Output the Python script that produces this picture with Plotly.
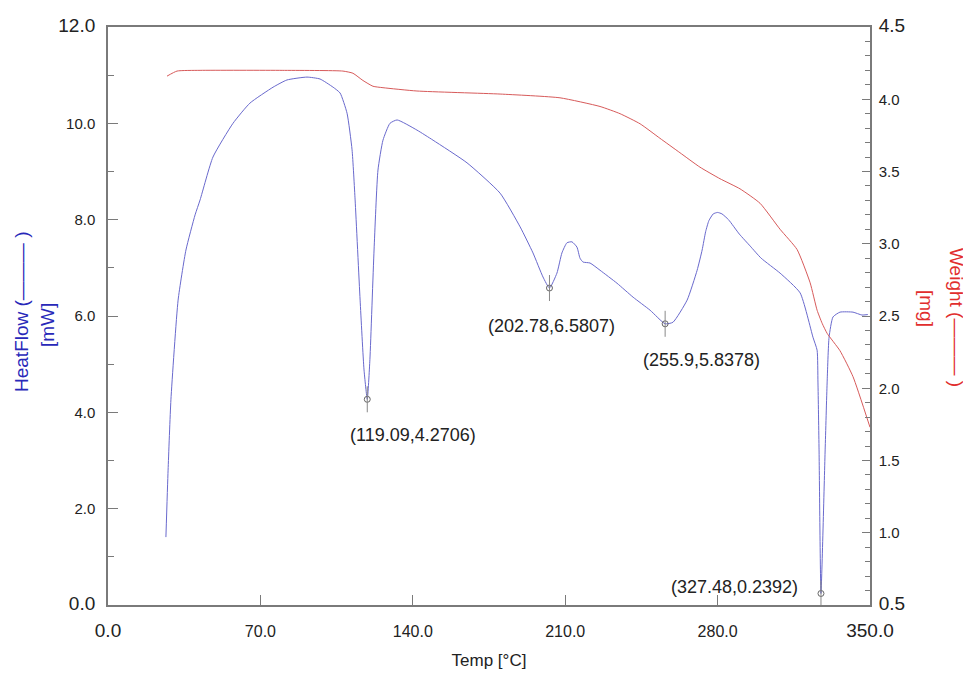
import plotly.graph_objects as go

# ---------------- data ----------------
temp_hf = [26.6, 27.6, 28.9, 32.2, 35.8, 40.0, 42.3, 48.2, 57.4, 65.2, 75.8, 82.2, 91.4, 97.4,
           103.4, 106.6, 109.8, 112.1, 113.5, 115.8, 117.6, 119.09, 120.3, 122.2, 124.0, 126.3,
           129.5, 132.8, 141.9, 149.3, 164.9, 180.1, 189.3, 195.2, 199.8, 202.78, 206.2, 208.5,
           210.8, 213.1, 215.4, 216.8, 218.2, 221.4, 226.0, 233.8, 241.2, 249.0, 255.9, 259.5,
           266.0, 270.6, 272.9, 274.5, 276.0, 278.0, 280.0, 282.0, 285.0, 290.0, 295.0, 300.0,
           308.7, 317.9, 323.8, 325.7, 326.1, 326.6, 327.48, 329.4, 330.3, 331.2, 333.0, 336.2,
           342.2, 346.3, 349.0]
heatflow = [1.41, 2.8, 4.26, 6.33, 7.37, 8.10, 8.41, 9.30, 10.0, 10.42, 10.75, 10.9, 10.96, 10.92,
            10.75, 10.63, 10.21, 9.45, 8.41, 6.33, 4.88, 4.2706, 5.1, 7.37, 9.03, 9.65,
            10.0, 10.07, 9.86, 9.65, 9.18, 8.55, 7.85, 7.31, 6.81, 6.5807, 6.89, 7.31,
            7.52, 7.54, 7.43, 7.20, 7.12, 7.10, 6.95, 6.68, 6.39, 6.12, 5.8378, 5.87,
            6.33, 6.95, 7.37, 7.75, 7.98, 8.12, 8.15, 8.12, 8.0, 7.7, 7.45, 7.2,
            6.89, 6.48, 5.56, 5.29, 4.61, 3.22, 0.2392, 3.22, 4.61, 5.56, 5.98, 6.08,
            6.08, 6.02, 6.03]

temp_w = [27.1, 31.7, 42.3, 80.0, 107.9, 112.5, 117.1, 121.7, 126.3, 141.9, 180.1, 207.6, 226.0,
          235.2, 244.4, 253.5, 262.7, 271.9, 281.1, 290.3, 299.5, 308.7, 316.5, 322.5, 325.7,
          328.0, 330.3, 336.2, 342.2, 350.0]
weight = [4.16, 4.195, 4.20, 4.20, 4.195, 4.18, 4.13, 4.09, 4.08, 4.057, 4.036, 4.01, 3.95,
          3.90, 3.83, 3.73, 3.63, 3.53, 3.45, 3.38, 3.28, 3.10, 2.96, 2.73, 2.54,
          2.45, 2.38, 2.26, 2.08, 1.73]

peak_temp = [119.09, 202.78, 255.9, 327.48]
peak_hf = [4.2706, 6.5807, 5.8378, 0.2392]

x_ticks = [0, 70, 140, 210, 280, 350]
x_tick_labels = ["0.0", "70.0", "140.0", "210.0", "280.0", "350.0"]
y_ticks = [0, 2, 4, 6, 8, 10, 12]
y_tick_labels = ["0.0", "2.0", "4.0", "6.0", "8.0", "10.0", "12.0"]
y2_ticks = [0.5, 1.0, 1.5, 2.0, 2.5, 3.0, 3.5, 4.0, 4.5]
y2_tick_labels = ["0.5", "1.0", "1.5", "2.0", "2.5", "3.0", "3.5", "4.0", "4.5"]

# ---------------- styling ----------------
BLUE_LINE = "rgb(105,105,205)"
RED_LINE = "rgb(215,90,90)"
BLUE_TXT = "rgb(40,40,185)"
RED_TXT = "rgb(225,45,45)"
AX = "#7a7a7a"
BIG = '<span style="font-size:19px">{}</span>'
MID_X = '<span style="font-size:16px">{}</span>'


def styled(labels, mid_fmt):
    out = []
    for i, t in enumerate(labels):
        if i == 0 or i == len(labels) - 1:
            out.append(BIG.format(t))
        else:
            out.append(mid_fmt.format(t))
    return out


fig = go.Figure()
fig.add_trace(go.Scatter(x=temp_hf, y=heatflow, mode="lines",
                         line=dict(color=BLUE_LINE, width=1, shape="spline", smoothing=0.5),
                         yaxis="y", hoverinfo="skip"))
fig.add_trace(go.Scatter(x=temp_w, y=weight, mode="lines",
                         line=dict(color=RED_LINE, width=1, shape="spline", smoothing=0.5),
                         yaxis="y2", hoverinfo="skip"))
fig.add_trace(go.Scatter(x=peak_temp, y=peak_hf, mode="markers", yaxis="y",
                         marker=dict(symbol="circle-open", size=6, color="#666", line=dict(width=1)),
                         hoverinfo="skip"))

label_shift = [(46, -36), (2, -38), (36, -36), (-86, 6)]
for (t, h), (dx, dy) in zip(zip(peak_temp, peak_hf), label_shift):
    fig.add_shape(type="line", xref="x", yref="y", x0=t, x1=t, ysizemode="pixel",
                  yanchor=h, y0=-13, y1=13, line=dict(color="#888", width=1))
    fig.add_annotation(x=t, y=h, xref="x", yref="y", text=f"({t},{h})", showarrow=False,
                       xshift=dx, yshift=dy, font=dict(size=18, color="#222"))

# page offset of 8 px (browser body margin) compensated in the margins
OFF = 8
W, H = 971, 688
L, T = 108 - OFF, 27 - OFF
R = W - (870 - OFF)
B = H - (605 - OFF)
pw, ph = W - L - R, H - T - B


def px(x):
    return (x - OFF - L) / pw


def py(y):
    return (H - B - (y - OFF)) / ph


def side_title(x, y, text, angle, color):
    fig.add_annotation(xref="paper", yref="paper", x=px(x), y=py(y), text=text,
                       textangle=angle, showarrow=False, xanchor="center", yanchor="middle",
                       font=dict(size=19, color=color))


side_title(21, 312, "HeatFlow (——— )", -90, BLUE_TXT)
side_title(47, 325, "[mW]", -90, BLUE_TXT)
side_title(957, 317, "Weight (——— )", 90, RED_TXT)
side_title(927, 308, "[mg]", 90, RED_TXT)

fig.update_layout(
    width=W, height=H, margin=dict(l=L, r=R, t=T, b=B, autoexpand=False),
    plot_bgcolor="white", paper_bgcolor="white", showlegend=False,
    font=dict(family="Liberation Sans, Arial, sans-serif", size=15, color="#222"),
    xaxis=dict(range=[0, 350], tickvals=x_ticks, ticktext=styled(x_tick_labels, MID_X),
               ticks="inside", ticklen=10, tickcolor=AX, showline=True, linecolor=AX,
               linewidth=1.5, mirror=True, showgrid=False, zeroline=False,
               ticklabelstandoff=12,
               title=dict(text="Temp [°C]", font=dict(size=17), standoff=14)),
    yaxis=dict(range=[0, 12], tickvals=y_ticks, ticktext=styled(y_tick_labels, "{}"),
               ticks="inside", ticklen=10, tickcolor=AX, showline=True, linecolor=AX,
               linewidth=1.5, showgrid=False, zeroline=False, ticklabelstandoff=8,
               minor=dict(dtick=1, ticks="inside", ticklen=6, tickcolor=AX)),
    yaxis2=dict(range=[0.5, 4.5], overlaying="y", side="right", tickvals=y2_ticks,
                ticktext=styled(y2_tick_labels, "{}"),
                ticks="inside", ticklen=8, tickcolor=AX, showline=True, linecolor=AX,
                linewidth=1.5, showgrid=False, zeroline=False, ticklabelstandoff=4,
                minor=dict(dtick=0.1, tick0=0.5, ticks="inside", ticklen=5, tickcolor=AX)),
)

fig.write_html("out.html")
